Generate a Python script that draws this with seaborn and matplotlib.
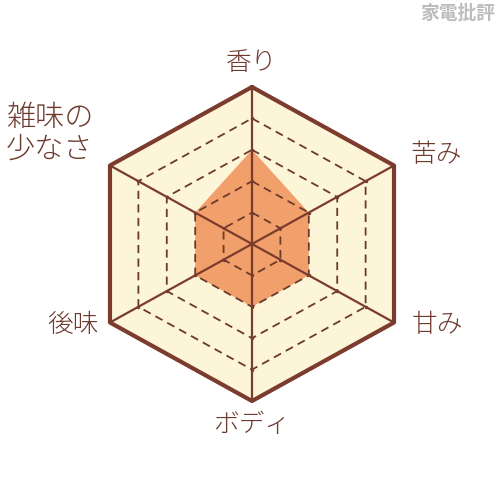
import numpy as np
import pandas as pd
import seaborn as sns
import matplotlib
matplotlib.use("Agg")
import matplotlib.pyplot as plt

# radar data
categories = ["香り", "苦み", "甘み", "ボディ", "後味", "雑味の\n少なさ"]
scores = [3, 2, 2, 2, 2, 2]
max_score = 5
levels = [1, 2, 3, 4, 5]

# colours
edge_col = "#7b3b2d"
cream = "#fcf5d8"
orange = "#f2a06b"
text_col = "#6e3a2e"

sns.set_theme(style="white")
plt.rcParams["font.family"] = ["Noto Sans CJK JP", "DejaVu Sans"]

# scale: one radius unit in pixels (hexagon is a bit wider than regular)
px_y = 157.0
px_x = 164.0
W, H = 500, 488
cx, cy = 252, 244

fig = plt.figure(figsize=(W / 100, H / 100), dpi=100)
ax = fig.add_axes([0, 0, 1, 1])
ax.set_xlim(-cx / px_x, (W - cx) / px_x)
ax.set_ylim(-(H - cy) / px_y, cy / px_y)
ax.axis("off")

n = len(categories)
angles = np.pi / 2 - np.arange(n) * 2 * np.pi / n


def ring(r):
    xs = np.append(r * np.cos(angles), r * np.cos(angles[0]))
    ys = np.append(r * np.sin(angles), r * np.sin(angles[0]))
    return xs, ys


# background hexagon
bx, by = ring(1.0)
ax.fill(bx, by, color=cream, zorder=1)

# data polygon
vals = np.array(scores) / max_score
dx = np.append(vals * np.cos(angles), vals[0] * np.cos(angles[0]))
dy = np.append(vals * np.sin(angles), vals[0] * np.sin(angles[0]))
ax.fill(dx, dy, color=orange, zorder=2, lw=0)

# dashed inner rings
for lv in levels[:-1]:
    rx, ry = ring(lv / max_score)
    df = pd.DataFrame({"x": rx, "y": ry, "i": range(len(rx))})
    sns.lineplot(data=df, x="x", y="y", sort=False, estimator=None, ax=ax,
                 color="#6b3a2c", lw=1.3, dashes=False, linestyle=(0, (4.5, 3)), zorder=3)
    ax.scatter(rx[:-1], ry[:-1], s=6, color="#6b3a2c", zorder=3, lw=0)

# spokes
for a in angles:
    ax.plot([0, np.cos(a)], [0, np.sin(a)], color=edge_col, lw=1.6, zorder=4)

# outer ring
sns.lineplot(x=bx, y=by, sort=False, estimator=None, ax=ax, color=edge_col,
             lw=3, zorder=5)
ax.set_xlabel("")
ax.set_ylabel("")

# labels
label_pos = [(252, 63), (436, 155), (437, 325), (252, 425), (73, 325), (6, 134)]
for lab, (px, py) in zip(categories, label_pos):
    x = (px - cx) / px_x
    y = (cy - py) / px_y
    multi = "\n" in lab
    ax.text(x, y, lab, ha="left" if multi else "center", va="center",
            fontsize=21 if multi else 18.5, color=text_col,
            linespacing=1.05, fontweight="light")

# watermark
fig.text(0.99, 0.973, "家電批評", ha="right", va="center", fontsize=13.5,
         color="#bdbdbd", fontweight="bold")

fig.savefig("out.png", dpi=100, facecolor="white")
